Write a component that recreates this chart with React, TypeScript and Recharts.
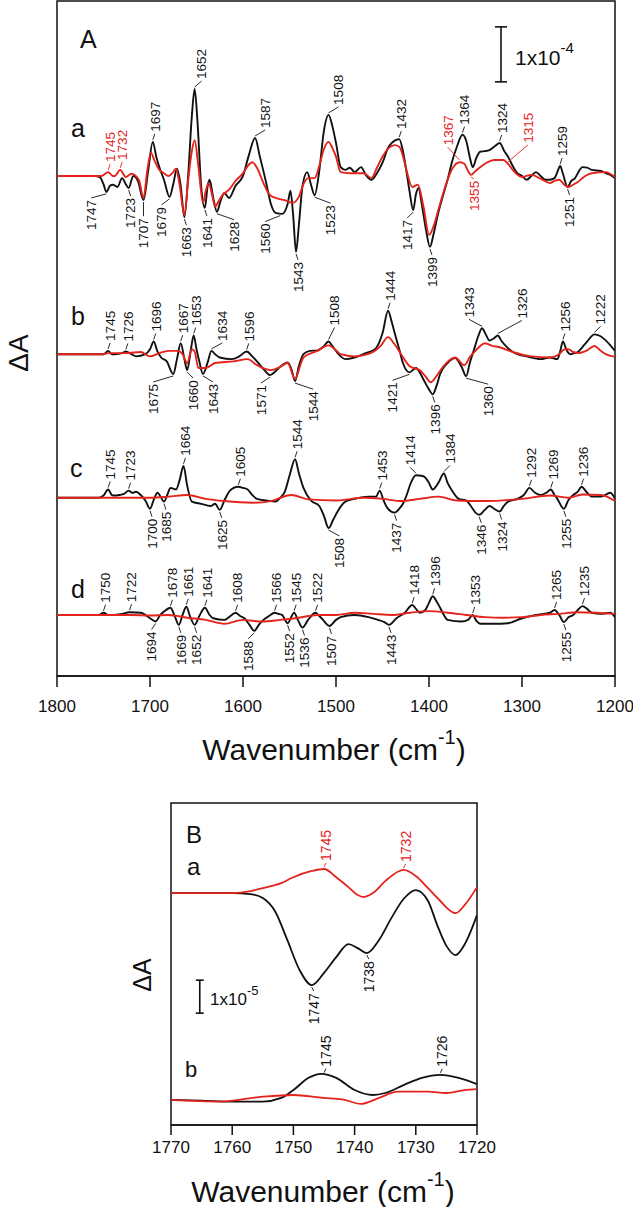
import React from 'react'
import { LineChart, Line, XAxis, YAxis, ReferenceArea, ReferenceDot, ReferenceLine } from 'recharts'

type Pt = [number, number]
type Lbl = [number, 1 | -1, 'k' | 'r']

const FONT = '"Liberation Sans", Arial, Helvetica, sans-serif'
const RED = '#e3231c'
const INK = '#111'

// ---------- panel A: difference spectra, ΔA in units of 1e-5 ----------
const aBlack: Pt[] = [
  [1800, 0], [1780, 0], [1760, 0], [1754, -0.2], [1750, -1.5], [1747, -2.9], [1743, -1.8], [1740, -1.6], [1735, -2.0],
  [1730, -0.4], [1726, -1.5], [1723, -2.2], [1718, 0], [1713, -0.9], [1707, -4.4], [1702, 0.9], [1697, 6.2], [1693, 3.3],
  [1690, 1.6], [1685, -0.7], [1679, -3.8], [1675, -1.5], [1671, 1.3], [1667, -1.8], [1663, -7.5], [1659, 0], [1655, 10.9],
  [1652, 15.8], [1649, 10.0], [1645, -1.8], [1641, -5.8], [1638, -1.8], [1636, -0.7], [1632, -4.0], [1628, -6.5], [1624, -4.5],
  [1620, -3.1], [1615, -4.0], [1608, -1.8], [1600, 0], [1594, 3.6], [1587, 6.9], [1582, 3.6], [1575, -1.3], [1570, -5.1],
  [1565, -6.7], [1558, -6.9], [1552, -5.1], [1549, -2.7], [1546, -7.3], [1543, -13.8], [1540, -9.1], [1536, -1.8], [1531, 0.7],
  [1527, -1.5], [1523, -3.5], [1518, 0.9], [1513, 8.2], [1508, 11.1], [1504, 9.1], [1500, 6.0], [1495, 1.6], [1490, 1.1],
  [1485, 1.5], [1480, 0.7], [1473, 1.6], [1468, 0.2], [1462, -0.7], [1456, 0.5], [1450, 2.4], [1444, 5.1], [1440, 6.0],
  [1432, 6.7], [1428, 4.5], [1425, 1.6], [1421, -2.7], [1417, -6.2], [1414, -3.3], [1411, -2.2], [1408, -4.9], [1403, -10.0],
  [1399, -12.9], [1395, -10.5], [1390, -6.7], [1385, -3.6], [1380, -0.7], [1375, 2.7], [1370, 5.3], [1364, 7.5], [1360, 6.4],
  [1356, 3.3], [1353, 1.6], [1349, 3.3], [1345, 4.4], [1340, 4.5], [1335, 4.7], [1330, 5.3], [1324, 6.0], [1319, 4.5],
  [1315, 3.5], [1310, 1.8], [1305, 0.5], [1300, 0], [1295, -0.7], [1290, 0], [1285, 0.7], [1280, 0], [1275, -0.7],
  [1270, -0.7], [1265, -0.4], [1262, 0.7], [1259, 1.8], [1256, 0.4], [1251, -2.0], [1247, -0.9], [1243, -0.4], [1240, 0.5],
  [1235, 1.6], [1230, 1.5], [1225, 1.1], [1215, 0.9], [1210, 0.5], [1205, 0.2], [1200, -0.4],
]
const aRed: Pt[] = [
  [1800, 0], [1760, 0], [1752, 0], [1745, 0.7], [1740, 0], [1738, 0], [1732, 1.1], [1726, -0.2], [1720, 0.4], [1712, -0.7],
  [1707, -4.0], [1703, 0.9], [1699, 4.2], [1695, 2.7], [1690, 1.1], [1685, 0.5], [1680, 0], [1676, 0.5], [1672, 1.3],
  [1668, -1.8], [1663, -7.1], [1659, -0.9], [1655, 4.5], [1652, 6.5], [1648, 1.8], [1643, -4.9], [1640, -2.7], [1637, -1.3],
  [1633, -3.6], [1630, -5.6], [1626, -4.5], [1622, -3.5], [1615, -2.5], [1608, -0.9], [1600, 0.5], [1595, 1.8], [1590, 2.5],
  [1585, 1.5], [1578, -1.3], [1572, -3.3], [1565, -4.0], [1555, -4.4], [1547, -4.9], [1540, -3.8], [1535, -1.5], [1530, -0.4],
  [1523, -0.4], [1518, 1.8], [1513, 4.9], [1508, 6.2], [1504, 5.1], [1500, 3.5], [1495, 0.7], [1485, 0.5], [1470, 0.5],
  [1462, -0.4], [1456, 1.5], [1450, 3.5], [1443, 5.1], [1437, 5.6], [1432, 5.3], [1428, 3.6], [1425, 1.6], [1418, -2.0],
  [1412, -1.6], [1406, -5.5], [1400, -10.7], [1395, -9.1], [1390, -6.2], [1385, -3.3], [1380, -0.7], [1375, 1.3], [1367, 2.5],
  [1362, 2.2], [1358, 0.9], [1355, 0.2], [1350, 0.9], [1345, 1.6], [1338, 2.4], [1330, 2.9], [1320, 2.9], [1315, 2.2],
  [1310, 1.1], [1300, -0.2], [1290, 0.2], [1280, -0.5], [1270, -1.3], [1265, -0.9], [1260, -0.7], [1255, -1.5], [1250, -2.0],
  [1245, -1.6], [1240, -1.1], [1232, 0], [1225, 0.5], [1210, 0.7], [1200, -0.2],
]
const bBlack: Pt[] = [
  [1800, 0], [1760, 0], [1750, 0], [1745, 0.6], [1741, 0], [1738, 0], [1730, 0.2], [1726, 0.5], [1720, 0], [1715, -0.4],
  [1705, 0], [1700, 0.9], [1696, 2.3], [1692, 0.5], [1688, -0.6], [1682, -1.3], [1675, -3.6], [1671, -0.9], [1667, 2.0],
  [1663, -0.9], [1660, -2.9], [1656, 0.9], [1653, 3.4], [1650, 0.9], [1647, -1.3], [1643, -3.6], [1638, -1.5], [1634, 0.6],
  [1630, 0], [1625, -0.6], [1612, -0.9], [1604, -0.4], [1596, 0.5], [1590, -0.4], [1585, -1.3], [1578, -2.7], [1571, -3.8],
  [1565, -3.1], [1560, -2.3], [1552, -1.5], [1548, -2.7], [1544, -4.9], [1540, -2.2], [1535, 0], [1528, 0.6], [1520, 0.7],
  [1514, 1.3], [1508, 2.3], [1504, 1.5], [1500, 0.6], [1495, -0.4], [1490, -0.9], [1480, -0.6], [1468, 0.2], [1458, 0.9],
  [1450, 3.8], [1444, 7.9], [1440, 5.8], [1436, 3.3], [1432, 0.9], [1428, -1.6], [1421, -3.3], [1414, -2.5], [1409, -3.6],
  [1405, -4.9], [1400, -6.4], [1396, -7.3], [1392, -5.8], [1388, -3.6], [1380, -1.6], [1372, -0.7], [1365, -2.3], [1360, -4.0],
  [1356, -1.5], [1352, 0.6], [1347, 3.3], [1343, 4.7], [1339, 3.6], [1335, 2.5], [1330, 2.9], [1326, 3.4], [1322, 2.4],
  [1318, 1.6], [1310, 0.4], [1305, 0], [1295, -0.4], [1280, -0.9], [1270, -0.6], [1262, -0.9], [1259, 0.5], [1256, 2.3],
  [1252, 0.7], [1248, 0], [1244, 0.2], [1240, 0.4], [1235, 1.3], [1230, 2.3], [1222, 3.6], [1216, 3.3], [1210, 2.5],
  [1205, 1.6], [1200, 0.6],
]
const bRed: Pt[] = [
  [1800, 0], [1750, 0], [1745, 0.2], [1725, 0.2], [1710, 0.4], [1700, -0.4], [1690, 0.2], [1680, 0.6], [1670, 0.6],
  [1665, 0], [1660, -1.6], [1655, 0.9], [1652, 0.5], [1648, -2.5], [1640, -2.5], [1630, -1.6], [1610, -1.3], [1595, -0.9],
  [1585, -2.0], [1570, -2.9], [1560, -2.3], [1552, -1.6], [1544, -4.5], [1538, -1.8], [1535, -0.6], [1520, 0.6], [1508, 1.6],
  [1500, 0.7], [1495, 0], [1480, -0.4], [1460, 0.4], [1452, 1.5], [1444, 3.1], [1437, 1.8], [1430, 0], [1420, -2.3],
  [1410, -2.9], [1404, -4.0], [1398, -5.1], [1392, -4.0], [1385, -2.3], [1378, -1.1], [1372, -0.6], [1362, -2.0], [1356, -0.5],
  [1350, 0.6], [1345, 1.5], [1340, 2.0], [1332, 1.5], [1325, 1.3], [1310, 0.4], [1290, -0.4], [1270, -0.6], [1260, 0],
  [1254, 0.9], [1250, 0.9], [1245, 0.4], [1240, 0.2], [1230, 0.7], [1222, 1.5], [1216, 0.7], [1210, 0], [1200, -0.5],
]
const cBlack: Pt[] = [
  [1800, 0], [1755, 0], [1750, 0.4], [1745, 1.5], [1741, 0.5], [1738, 0.4], [1733, 0.5], [1728, 0.7], [1723, 1.3],
  [1719, 0.9], [1715, 1.1], [1710, 0.5], [1705, -0.5], [1700, -2.0], [1696, -0.4], [1692, 0.9], [1688, 0], [1685, -0.7],
  [1681, 0.7], [1678, 1.8], [1672, 1.5], [1668, 3.3], [1664, 5.8], [1660, 2.2], [1655, -0.7], [1645, -1.1], [1635, -1.5],
  [1630, -1.1], [1625, -2.2], [1620, -0.5], [1615, 1.1], [1610, 1.8], [1605, 2.0], [1600, 1.8], [1595, 1.5], [1590, 0.5],
  [1585, -0.2], [1575, -0.5], [1565, -0.7], [1560, 0], [1555, 1.1], [1550, 4.0], [1544, 7.0], [1540, 4.5], [1535, 1.8],
  [1527, -0.5], [1518, -1.5], [1513, -3.3], [1508, -5.5], [1503, -4.0], [1498, -2.4], [1490, -0.7], [1480, -0.2], [1465, 0.2],
  [1457, 0.2], [1453, 1.3], [1449, -0.4], [1445, -1.8], [1437, -2.7], [1432, -2.0], [1428, -1.1], [1424, 0.5], [1420, 2.5],
  [1414, 4.1], [1408, 4.0], [1405, 3.8], [1400, 2.7], [1396, 1.5], [1390, 2.7], [1384, 4.4], [1380, 2.7], [1376, 1.5],
  [1368, -0.2], [1360, -0.5], [1355, -1.5], [1350, -2.7], [1346, -3.1], [1340, -2.2], [1335, -1.5], [1330, -2.0], [1324, -2.5],
  [1320, -1.6], [1315, -0.7], [1305, -0.2], [1298, 0.5], [1292, 1.8], [1286, 0.9], [1280, 0.5], [1274, 0.9], [1269, 1.5],
  [1265, 0.5], [1262, -0.2], [1255, -2.0], [1250, -0.4], [1245, 0.5], [1240, 1.1], [1236, 2.0], [1230, 0.9], [1225, 0.2],
  [1215, 0.2], [1205, 0.9], [1200, -0.2],
]
const cRed: Pt[] = [
  [1800, 0], [1720, 0], [1700, 0], [1680, 0.2], [1660, 0.5], [1640, -0.2], [1620, -0.6], [1590, -0.9], [1570, -0.6],
  [1548, 0.5], [1530, -0.3], [1500, -0.5], [1470, 0], [1450, -0.2], [1430, -0.6], [1410, -0.2], [1390, 0.2], [1370, -0.5],
  [1340, -0.6], [1300, -0.2], [1270, 0.4], [1250, 0], [1235, 0.6], [1215, 0.5], [1200, -0.6],
]
const dBlack: Pt[] = [
  [1800, 0], [1760, 0], [1755, 0], [1750, 0.4], [1745, 0], [1740, 0], [1730, 0.2], [1722, 0.5], [1710, 0.4], [1700, -0.6],
  [1694, -1.2], [1689, 0], [1685, 0.6], [1678, 1.3], [1673, -0.4], [1669, -1.8], [1665, 0], [1661, 1.5], [1657, -0.2],
  [1652, -1.8], [1647, -0.2], [1641, 1.3], [1636, 0], [1632, -0.6], [1620, -0.9], [1612, 0], [1608, 0.4], [1603, -0.2],
  [1598, -0.7], [1593, -1.8], [1588, -2.9], [1583, -1.8], [1578, -0.9], [1572, -0.2], [1566, 0.4], [1562, 0.2], [1558, 0],
  [1552, -1.5], [1545, 0.4], [1541, -0.9], [1536, -2.3], [1530, -0.9], [1522, 0.4], [1518, -0.2], [1515, -0.7], [1507, -2.0],
  [1500, -0.9], [1495, -0.4], [1480, 0], [1465, -0.4], [1455, -0.9], [1448, -1.3], [1443, -1.8], [1435, -0.6], [1426, 0.4],
  [1418, 1.8], [1414, 1.1], [1410, 0.4], [1404, 0.9], [1400, 2.2], [1396, 3.4], [1392, 2.5], [1388, 1.3], [1384, 0],
  [1380, -0.9], [1365, -1.2], [1358, -0.9], [1353, 0], [1349, -1.1], [1345, -1.6], [1330, -1.6], [1315, -1.5], [1300, -0.6],
  [1285, 0], [1270, 0.4], [1265, 0.9], [1260, 0], [1255, -1.3], [1250, -0.4], [1245, 0], [1240, 0.9], [1235, 1.6],
  [1230, 1.1], [1225, 0.4], [1215, 0.2], [1205, 0.4], [1200, -0.4],
]
const dRed: Pt[] = [
  [1800, 0], [1720, 0], [1700, -0.1], [1680, 0], [1660, -0.5], [1640, -0.9], [1620, -1.6], [1600, -0.9], [1580, -1.2],
  [1560, -0.9], [1540, -0.5], [1520, 0], [1500, 0], [1480, 0.4], [1460, 0.2], [1440, 0], [1420, 0.4], [1400, 0.7],
  [1380, 0.4], [1360, 0], [1340, -0.4], [1320, -0.5], [1300, -0.4], [1280, 0], [1260, 0.2], [1240, 0.5], [1220, 0.4], [1200, 0.2],
]

// labelled bands: [wavenumber, 1 = above / -1 = below, trace colour]
const aLabels: Lbl[] = [
  [1745, 1, 'r'], [1732, 1, 'r'], [1697, 1, 'k'], [1652, 1, 'k'], [1587, 1, 'k'], [1508, 1, 'k'], [1432, 1, 'k'],
  [1367, 1, 'r'], [1364, 1, 'k'], [1324, 1, 'k'], [1315, 1, 'r'], [1259, 1, 'k'],
  [1747, -1, 'k'], [1723, -1, 'k'], [1707, -1, 'k'], [1679, -1, 'k'], [1663, -1, 'k'], [1641, -1, 'k'], [1628, -1, 'k'],
  [1560, -1, 'k'], [1543, -1, 'k'], [1523, -1, 'k'], [1417, -1, 'k'], [1399, -1, 'k'], [1355, -1, 'r'], [1251, -1, 'k'],
]
const bLabels: Lbl[] = [
  [1745, 1, 'k'], [1726, 1, 'k'], [1696, 1, 'k'], [1667, 1, 'k'], [1653, 1, 'k'], [1634, 1, 'k'], [1596, 1, 'k'],
  [1508, 1, 'k'], [1444, 1, 'k'], [1343, 1, 'k'], [1326, 1, 'k'], [1256, 1, 'k'], [1222, 1, 'k'],
  [1675, -1, 'k'], [1660, -1, 'k'], [1643, -1, 'k'], [1571, -1, 'k'], [1544, -1, 'k'], [1421, -1, 'k'], [1396, -1, 'k'],
  [1360, -1, 'k'],
]
const cLabels: Lbl[] = [
  [1745, 1, 'k'], [1723, 1, 'k'], [1664, 1, 'k'], [1605, 1, 'k'], [1544, 1, 'k'], [1453, 1, 'k'], [1414, 1, 'k'],
  [1384, 1, 'k'], [1292, 1, 'k'], [1269, 1, 'k'], [1236, 1, 'k'],
  [1700, -1, 'k'], [1685, -1, 'k'], [1625, -1, 'k'], [1508, -1, 'k'], [1437, -1, 'k'], [1346, -1, 'k'], [1324, -1, 'k'],
  [1255, -1, 'k'],
]
const dLabels: Lbl[] = [
  [1750, 1, 'k'], [1722, 1, 'k'], [1678, 1, 'k'], [1661, 1, 'k'], [1641, 1, 'k'], [1608, 1, 'k'], [1566, 1, 'k'],
  [1545, 1, 'k'], [1522, 1, 'k'], [1418, 1, 'k'], [1396, 1, 'k'], [1353, 1, 'k'], [1265, 1, 'k'], [1235, 1, 'k'],
  [1694, -1, 'k'], [1669, -1, 'k'], [1652, -1, 'k'], [1588, -1, 'k'], [1552, -1, 'k'], [1536, -1, 'k'], [1507, -1, 'k'],
  [1443, -1, 'k'], [1255, -1, 'k'],
]

// ---------- panel B: 1770-1720 region, ΔA in units of 1e-5 ----------
const BaBlack: Pt[] = [
  [1770, 0], [1765, 0], [1760, 0], [1757, -0.03], [1755, -0.15], [1753, -0.55], [1751, -1.42], [1749, -2.33], [1747, -2.79],
  [1745, -2.42], [1743, -1.94], [1741, -1.55], [1739.5, -1.67], [1738, -1.82], [1736, -1.42], [1734, -0.76], [1732, -0.18],
  [1730, 0.09], [1728, -0.24], [1726.5, -0.97], [1725, -1.6], [1723.5, -1.88], [1722, -1.55], [1720, -0.67],
]
const BaRed: Pt[] = [
  [1770, 0], [1765, 0], [1760, 0], [1757, 0.06], [1755, 0.15], [1752, 0.3], [1750, 0.48], [1747, 0.67], [1745, 0.73],
  [1743, 0.48], [1741, 0.18], [1739.5, -0.06], [1738.5, -0.12], [1737, 0], [1735, 0.36], [1733, 0.64], [1732, 0.7],
  [1730, 0.52], [1728, 0.15], [1726, -0.24], [1724, -0.58], [1723.5, -0.61], [1722, -0.36], [1720, 0.18],
]
const BbBlack: Pt[] = [
  [1770, 0], [1765, -0.02], [1760, -0.05], [1755, -0.05], [1752, 0.06], [1750, 0.3], [1747.5, 0.67], [1745.5, 0.79],
  [1743, 0.67], [1740, 0.3], [1737, 0.15], [1735, 0.21], [1732, 0.45], [1729, 0.67], [1726, 0.76], [1723, 0.67], [1720, 0.48],
]
const BbRed: Pt[] = [
  [1770, 0], [1762, -0.05], [1755, 0.1], [1750, 0.15], [1745, 0.06], [1742, 0.02], [1739, -0.12], [1736, 0.06],
  [1733, 0.25], [1728, 0.25], [1725, 0.21], [1722, 0.3], [1720, 0.33],
]
const BaLabels: Lbl[] = [[1745, 1, 'r'], [1732, 1, 'r'], [1747, -1, 'k'], [1738, -1, 'k']]
const BbLabels: Lbl[] = [[1745, 1, 'k'], [1726, 1, 'k']]

const ticksA = [1800, 1700, 1600, 1500, 1400, 1300, 1200]
const ticksB = [1770, 1760, 1750, 1740, 1730, 1720]
const Y_MAX_A = 122.7
const Y_MAX_B = 9.76

const tracesA = [
  { id: 'a', off: 90.9, k: aBlack, r: aRed, labels: aLabels },
  { id: 'b', off: 58.5, k: bBlack, r: bRed, labels: bLabels },
  { id: 'c', off: 32.4, k: cBlack, r: cRed, labels: cLabels },
  { id: 'd', off: 11.1, k: dBlack, r: dRed, labels: dLabels },
]
const tracesB = [
  { id: 'Ba', off: 7.03, k: BaBlack, r: BaRed, labels: BaLabels },
  { id: 'Bb', off: 0.76, k: BbBlack, r: BbRed, labels: BbLabels },
]

// text placement tweaks for crowded labels: [dx px, gap px]
const NUDGE: Record<string, number[]> = {
  a1747: [-15, 8], a1679: [-8], a1628: [17], a1560: [-15], a1523: [16], a1417: [-6], a1707: [0, 18],
  a1652: [7], a1587: [10], a1508: [10], a1367r: [-12, 17], a1315r: [20, 21], a1355r: [3, 6],
  b1634: [11], b1508: [6, 16], b1343: [-13, 11], b1326: [24, 17], b1222: [6], b1675: [-20], b1660: [6],
  b1643: [10], b1571: [-9], b1544: [18], b1421: [-17], b1360: [22],
  c1414: [-6], c1384: [6], c1508: [11],
  d1694: [-4], d1588: [-6],
}

const rows = (pts: Pt[], off: number) => pts.map(([wn, v]) => ({ wn, v: v + off }))

function valueAt(pts: Pt[], wn: number) {
  for (let i = 0; i < pts.length - 1; i++) {
    const [x0, y0] = pts[i]
    const [x1, y1] = pts[i + 1]
    if (wn <= x0 && wn >= x1) return x0 === x1 ? y0 : y0 + ((y1 - y0) * (wn - x0)) / (x1 - x0)
  }
  return 0
}

function PeakLabel({ cx, cy, text, up, color, dx, gap, size }: any) {
  if (cx == null || cy == null) return <g />
  const tx = cx + dx
  const edge = up ? cy - gap : cy + gap
  const bx = tx + size * 0.36
  return (
    <g>
      <line x1={cx} y1={up ? cy - 2 : cy + 2} x2={tx} y2={up ? edge + 2 : edge - 2} stroke={color} strokeWidth={0.9} />
      <text
        x={bx}
        y={edge}
        transform={`rotate(-90 ${bx} ${edge})`}
        textAnchor={up ? 'start' : 'end'}
        fontSize={size}
        fontFamily={FONT}
        fill={color}
      >
        {text}
      </text>
    </g>
  )
}

function labelDots(traces: typeof tracesA, size: number, defGap: number) {
  return traces.flatMap((t) =>
    t.labels.map(([wn, side, col]) => {
      const key = `${t.id}${wn}${col === 'r' ? 'r' : ''}`
      const n = NUDGE[key] ?? []
      const dx = n[0] ?? 2
      const gap = n[1] ?? defGap
      const src = col === 'r' ? t.r : t.k
      return (
        <ReferenceDot
          key={key + side}
          x={wn}
          y={valueAt(src, wn) + t.off}
          r={0}
          ifOverflow="visible"
          shape={(p: any) => (
            <PeakLabel cx={p.cx} cy={p.cy} text={String(wn)} up={side === 1} color={col === 'r' ? RED : INK} dx={dx} gap={gap} size={size} />
          )}
        />
      )
    })
  )
}

function traceLines(traces: typeof tracesA, w: number) {
  return traces.flatMap((t) => [
    <Line key={t.id + 'k'} data={rows(t.k, t.off)} dataKey="v" type="monotone" stroke={INK} strokeWidth={w} dot={false} activeDot={false} isAnimationActive={false} />,
    <Line key={t.id + 'r'} data={rows(t.r, t.off)} dataKey="v" type="monotone" stroke={RED} strokeWidth={w} dot={false} activeDot={false} isAnimationActive={false} />,
  ])
}

function scaleBar(wn: number, y0: number, len: number, cap: number) {
  const s = { stroke: INK, strokeWidth: 1.6, ifOverflow: 'visible' as const }
  return [
    <ReferenceLine key="sv" segment={[{ x: wn, y: y0 }, { x: wn, y: y0 + len }]} {...s} />,
    <ReferenceLine key="sb" segment={[{ x: wn - cap, y: y0 }, { x: wn + cap, y: y0 }]} {...s} />,
    <ReferenceLine key="st" segment={[{ x: wn - cap, y: y0 + len }, { x: wn + cap, y: y0 + len }]} {...s} />,
  ]
}

const axisProps = {
  type: 'number' as const,
  dataKey: 'wn',
  reversed: true,
  allowDataOverflow: true,
  interval: 0 as const,
  stroke: INK,
  tick: { fontSize: 17, fill: INK, fontFamily: FONT },
  axisLine: { strokeWidth: 1.5 },
  tickLine: { strokeWidth: 1.5 },
}

export default function App() {
  return (
    <div style={{ position: 'absolute', left: 0, top: 0, width: 633, height: 1207, background: '#fff' }}>
      <div style={{ position: 'absolute', left: 0, top: 0 }}>
        <LineChart width={633} height={730} margin={{ top: 1, right: 18, bottom: 4, left: 57 }}>
          <XAxis {...axisProps} domain={[1200, 1800]} ticks={ticksA} height={50} tickSize={11} tickMargin={13} />
          <YAxis type="number" domain={[0, Y_MAX_A]} hide allowDataOverflow />
          <ReferenceArea x1={1800} x2={1200} y1={0} y2={Y_MAX_A} fill="none" fillOpacity={0} stroke={INK} strokeWidth={1.5} ifOverflow="visible" />
          {traceLines(tracesA, 1.9)}
          {labelDots(tracesA, 13.5, 10)}
          {scaleBar(1322.6, 108, 10, 6.5)}
        </LineChart>
      </div>
      <div style={{ position: 'absolute', left: 0, top: 790 }}>
        <LineChart width={633} height={390} margin={{ top: 13, right: 156, bottom: 15, left: 171 }}>
          <XAxis {...axisProps} domain={[1720, 1770]} ticks={ticksB} height={40} tickSize={10} tickMargin={6} />
          <YAxis type="number" domain={[0, Y_MAX_B]} hide allowDataOverflow />
          <ReferenceArea x1={1770} x2={1720} y1={0} y2={Y_MAX_B} fill="none" fillOpacity={0} stroke={INK} strokeWidth={1.5} ifOverflow="visible" />
          {traceLines(tracesB, 1.8)}
          {labelDots(tracesB, 14, 8)}
          {scaleBar(1765.3, 3.39, 1, 0.65)}
        </LineChart>
      </div>
      <svg width={633} height={1207} style={{ position: 'absolute', left: 0, top: 0, pointerEvents: 'none' }} fontFamily={FONT} fill={INK}>
        <text x={80} y={48} fontSize={25}>A</text>
        <text x={71} y={137} fontSize={25}>a</text>
        <text x={71} y={325} fontSize={25}>b</text>
        <text x={70} y={477} fontSize={25}>c</text>
        <text x={71} y={598} fontSize={25}>d</text>
        <text transform="rotate(-90 28 353)" x={28} y={353} textAnchor="middle" fontSize={28}>ΔA</text>
        <text x={515} y={65} fontSize={21}>
          1x10<tspan dy={-12} fontSize={15}>-4</tspan>
        </text>
        <text x={334} y={760} textAnchor="middle" fontSize={30}>
          Wavenumber (cm<tspan dy={-16} fontSize={20}>-1</tspan>
          <tspan dy={16}>)</tspan>
        </text>
        <text x={186} y={843} fontSize={24}>B</text>
        <text x={187} y={875} fontSize={24}>a</text>
        <text x={185} y={1077} fontSize={22}>b</text>
        <text transform="rotate(-90 151 975)" x={151} y={975} textAnchor="middle" fontSize={25}>ΔA</text>
        <text x={210} y={1005} fontSize={17}>
          1x10<tspan dy={-10} fontSize={13}>-5</tspan>
        </text>
        <text x={323} y={1202} textAnchor="middle" fontSize={30}>
          Wavenumber (cm<tspan dy={-16} fontSize={20}>-1</tspan>
          <tspan dy={16}>)</tspan>
        </text>
      </svg>
    </div>
  )
}
